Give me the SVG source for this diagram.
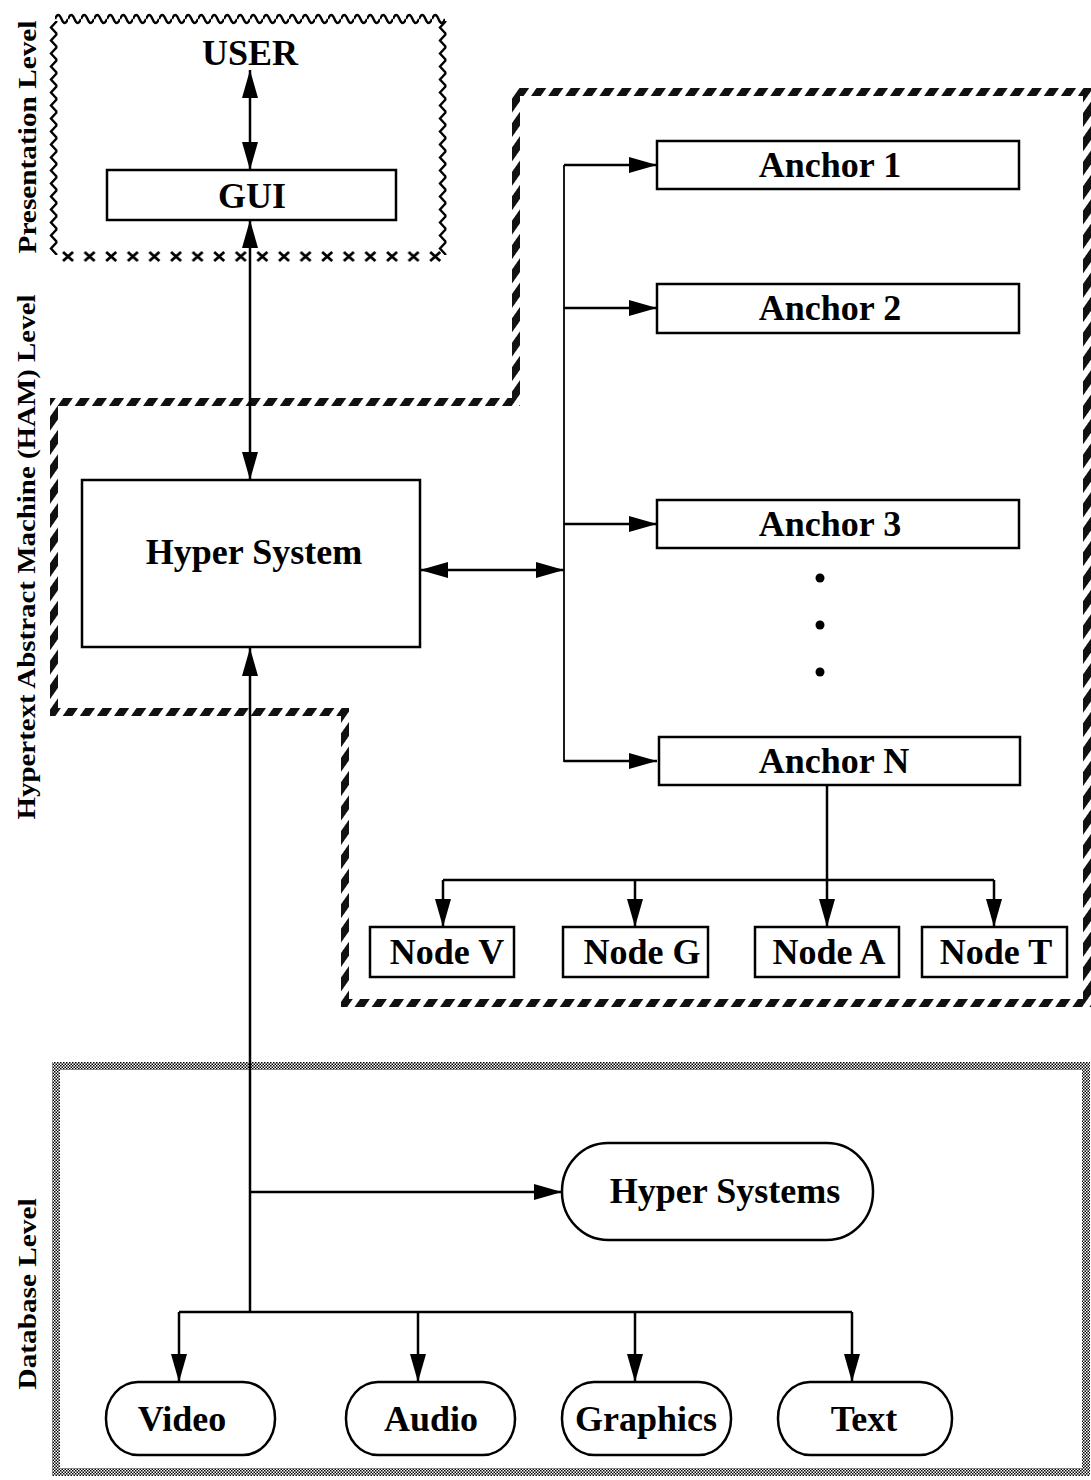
<svg xmlns="http://www.w3.org/2000/svg" width="1091" height="1480" viewBox="0 0 1091 1480">
<style>
  text { font-family: "Liberation Serif", "Times New Roman", serif; font-weight: bold; fill: #000; }
  .lbl { font-size: 36px; text-anchor: middle; }
  .side { font-size: 26px; text-anchor: middle; }
  .box { fill: #fff; stroke: #000; stroke-width: 2.5; }
  .conn { fill: none; stroke: #000; stroke-width: 2.5; }
  .thin { fill: none; stroke: #000; stroke-width: 1.8; }
  .ham { fill: none; stroke: url(#hatch); stroke-width: 8; }
  .db { fill: none; stroke: url(#stip); stroke-width: 8; }
</style>
<defs>
  <marker id="ah" viewBox="0 0 28 16" refX="28" refY="8" markerWidth="28" markerHeight="16" orient="auto-start-reverse" markerUnits="userSpaceOnUse">
    <path d="M0,0 L28,8 L0,16 z" fill="#000"/>
  </marker>
  <pattern id="hatch" patternUnits="userSpaceOnUse" width="14" height="14" patternTransform="rotate(35)">
    <rect x="0" y="0" width="8" height="14" fill="#111"/>
  </pattern>
  <pattern id="wave" patternUnits="userSpaceOnUse" x="55" y="11" width="13" height="16">
    <path d="M0,8 Q3.25,0 6.5,8 T13,8" fill="none" stroke="#000" stroke-width="2.4"/>
  </pattern>
  <pattern id="zigL" patternUnits="userSpaceOnUse" x="49" y="21" width="14" height="13">
    <path d="M8,0 L2,6.5 L8,13" fill="none" stroke="#000" stroke-width="2.4"/>
  </pattern>
  <pattern id="zigR" patternUnits="userSpaceOnUse" x="438" y="21" width="14" height="13">
    <path d="M8,0 L2,6.5 L8,13" fill="none" stroke="#000" stroke-width="2.4"/>
  </pattern>
  <pattern id="xs" patternUnits="userSpaceOnUse" x="58" y="249" width="21.6" height="16">
    <path d="M5,3 L15,12 M15,3 L5,12" fill="none" stroke="#000" stroke-width="2.8"/>
  </pattern>
  <pattern id="stip" patternUnits="userSpaceOnUse" width="3" height="3">
    <rect width="3" height="3" fill="#fff"/>
    <rect width="1.5" height="1.5" fill="#000"/>
    <rect x="1.5" y="1.5" width="1.5" height="1.5" fill="#000"/>
  </pattern>
</defs>
<rect width="1091" height="1480" fill="#fff"/>

<g id="presentation-level">
  <rect x="55" y="11" width="390" height="16" fill="url(#wave)"/>
  <rect x="49" y="21" width="14" height="234" fill="url(#zigL)"/>
  <rect x="438" y="21" width="14" height="234" fill="url(#zigR)"/>
  <rect x="58" y="249" width="389" height="16" fill="url(#xs)"/>
  <text class="side" transform="translate(36,137) rotate(-90)" textLength="233" lengthAdjust="spacingAndGlyphs">Presentation Level</text>
</g>

<g id="ham-level">
  <path class="ham" d="M54,402 H516 V92 H1087 V1003 H345 V712 H54 Z"/>
  <text class="side" transform="translate(35,557) rotate(-90)" textLength="525" lengthAdjust="spacingAndGlyphs">Hypertext Abstract Machine (HAM) Level</text>
</g>

<g id="database-level">
  <rect class="db" x="56" y="1066" width="1030" height="406"/>
  <text class="side" transform="translate(36,1294) rotate(-90)" textLength="191" lengthAdjust="spacingAndGlyphs">Database Level</text>
</g>

<g id="connectors">
  <line class="conn" x1="250" y1="70" x2="250" y2="170" marker-start="url(#ah)" marker-end="url(#ah)"/>
  <line class="conn" x1="250" y1="220" x2="250" y2="480" marker-start="url(#ah)" marker-end="url(#ah)"/>
  <line class="conn" x1="250" y1="1312" x2="250" y2="648" marker-end="url(#ah)"/>
  <line class="conn" x1="420" y1="570" x2="564" y2="570" marker-start="url(#ah)" marker-end="url(#ah)"/>
  <line class="thin" x1="564" y1="165" x2="564" y2="762"/>
  <line class="conn" x1="564" y1="165" x2="657" y2="165" marker-end="url(#ah)"/>
  <line class="conn" x1="564" y1="308" x2="657" y2="308" marker-end="url(#ah)"/>
  <line class="conn" x1="564" y1="524" x2="657" y2="524" marker-end="url(#ah)"/>
  <line class="conn" x1="564" y1="761" x2="657" y2="761" marker-end="url(#ah)"/>
  <line class="conn" x1="827" y1="785" x2="827" y2="927" marker-end="url(#ah)"/>
  <line class="conn" x1="443" y1="880" x2="994" y2="880"/>
  <line class="conn" x1="443" y1="880" x2="443" y2="927" marker-end="url(#ah)"/>
  <line class="conn" x1="635" y1="880" x2="635" y2="927" marker-end="url(#ah)"/>
  <line class="conn" x1="994" y1="880" x2="994" y2="927" marker-end="url(#ah)"/>
  <line class="conn" x1="250" y1="1192" x2="562" y2="1192" marker-end="url(#ah)"/>
  <line class="conn" x1="179" y1="1312" x2="852" y2="1312"/>
  <line class="conn" x1="179" y1="1312" x2="179" y2="1382" marker-end="url(#ah)"/>
  <line class="conn" x1="418" y1="1312" x2="418" y2="1382" marker-end="url(#ah)"/>
  <line class="conn" x1="635" y1="1312" x2="635" y2="1382" marker-end="url(#ah)"/>
  <line class="conn" x1="852" y1="1312" x2="852" y2="1382" marker-end="url(#ah)"/>
</g>

<g id="node-user"><text class="lbl" x="250" y="65">USER</text></g>
<g id="node-gui"><rect class="box" x="107" y="170" width="289" height="50"/><text class="lbl" x="252" y="208">GUI</text></g>
<g id="node-hyper-system"><rect class="box" x="82" y="480" width="338" height="167"/><text class="lbl" x="254" y="564">Hyper System</text></g>
<g id="node-anchor-1"><rect class="box" x="657" y="141" width="362" height="48"/><text class="lbl" x="830" y="177">Anchor 1</text></g>
<g id="node-anchor-2"><rect class="box" x="657" y="284" width="362" height="49"/><text class="lbl" x="830" y="320">Anchor 2</text></g>
<g id="node-anchor-3"><rect class="box" x="657" y="500" width="362" height="48"/><text class="lbl" x="830" y="536">Anchor 3</text></g>
<g id="dots">
  <circle cx="820" cy="578" r="4.5"/>
  <circle cx="820" cy="625" r="4.5"/>
  <circle cx="820" cy="672" r="4.5"/>
</g>
<g id="node-anchor-n"><rect class="box" x="659" y="737" width="361" height="48"/><text class="lbl" x="834" y="773">Anchor N</text></g>
<g id="node-v"><rect class="box" x="370" y="927" width="144" height="50"/><text class="lbl" x="447" y="964">Node V</text></g>
<g id="node-g"><rect class="box" x="563" y="927" width="145" height="50"/><text class="lbl" x="642" y="964">Node G</text></g>
<g id="node-a"><rect class="box" x="755" y="927" width="144" height="50"/><text class="lbl" x="829" y="964">Node A</text></g>
<g id="node-t"><rect class="box" x="922" y="927" width="145" height="50"/><text class="lbl" x="996" y="964">Node T</text></g>
<g id="node-hyper-systems"><rect class="box" x="562" y="1143" width="311" height="97" rx="46" ry="48"/><text class="lbl" x="725" y="1203">Hyper Systems</text></g>
<g id="node-video"><rect class="box" x="106" y="1382" width="169" height="73" rx="32" ry="36"/><text class="lbl" x="182" y="1431">Video</text></g>
<g id="node-audio"><rect class="box" x="346" y="1382" width="169" height="73" rx="32" ry="36"/><text class="lbl" x="431" y="1431">Audio</text></g>
<g id="node-graphics"><rect class="box" x="562" y="1382" width="169" height="73" rx="32" ry="36"/><text class="lbl" x="646" y="1431">Graphics</text></g>
<g id="node-text"><rect class="box" x="778" y="1382" width="174" height="73" rx="32" ry="36"/><text class="lbl" x="864" y="1431">Text</text></g>
</svg>
